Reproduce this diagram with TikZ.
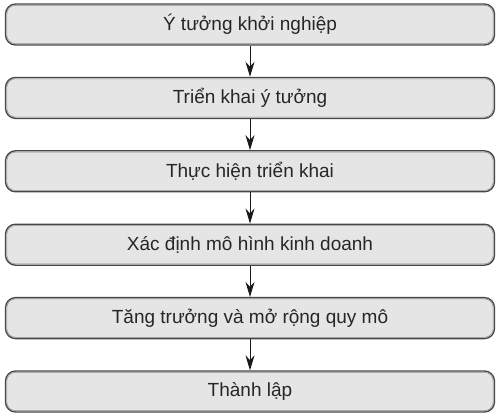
\documentclass[tikz,border=0pt]{standalone}
\usepackage{fontspec}
\setmainfont{Liberation Sans}
\usetikzlibrary{arrows.meta}
\begin{document}
\begin{tikzpicture}[x=1pt,y=-1pt,
  stepbox/.style={draw=black!72,fill=black!10,line width=1.3pt,rounded corners=10pt,
    minimum width=489pt,minimum height=41pt,inner sep=0pt,
    font=\fontsize{19}{22}\selectfont,text=black!85},
  flow/.style={-{Stealth[length=15pt,width=9pt]},line width=1pt,black!90}]
\useasboundingbox (0,0) rectangle (500,418);
\foreach \i/\t in {1/Ý tưởng khởi nghiệp,2/Triển khai ý tưởng,3/Thực hiện triển khai,4/Xác định mô hình kinh doanh,5/Tăng trưởng và mở rộng quy mô,6/Thành lập}{
  \node[stepbox] (b\i) at (250,{24.5+73.4*(\i-1)}) {\t};
  \draw[black!45,line width=0.5pt,rounded corners=8.5pt]
    ([xshift=2pt,yshift=-2pt]b\i.north west) rectangle ([xshift=-2pt,yshift=2pt]b\i.south east);
}
\foreach \i [count=\j from 2] in {1,...,5}{
  \draw[flow] (b\i) -- (b\j);
}
\end{tikzpicture}
\end{document}
